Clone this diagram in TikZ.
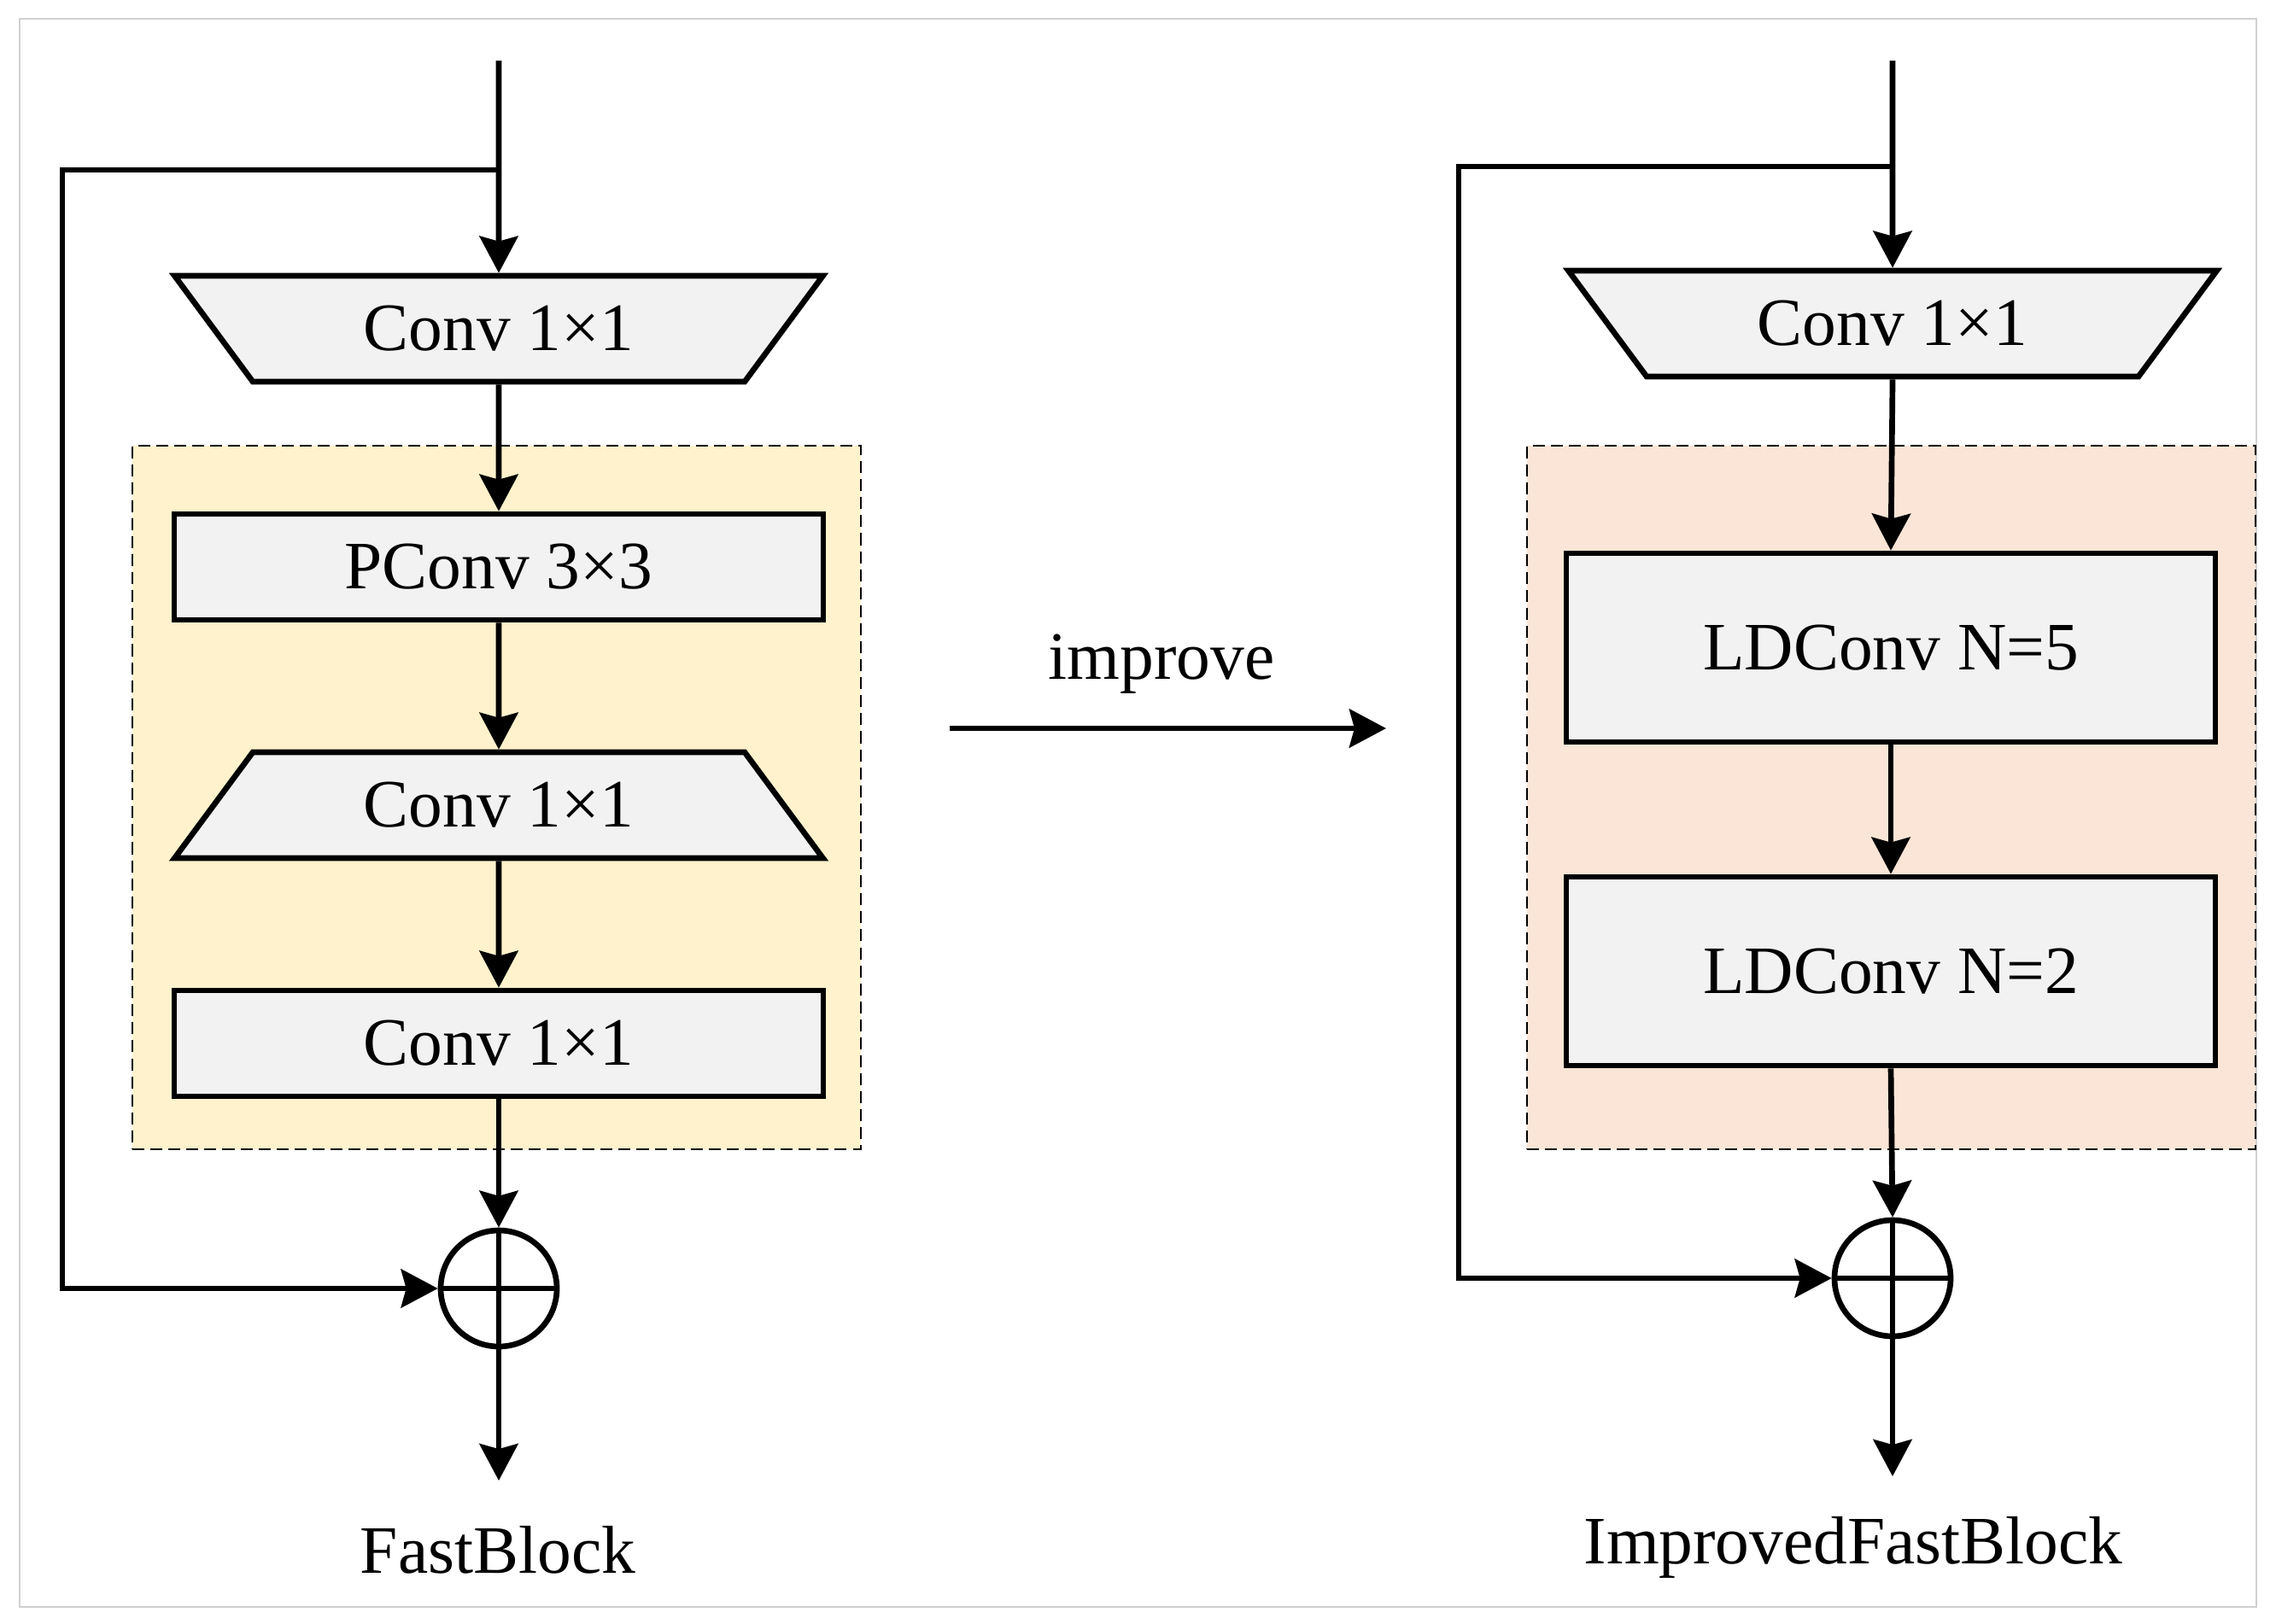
\documentclass[tikz,border=0pt]{standalone}
\usepackage{fontspec}
\setmainfont{Liberation Serif}
\usepackage{xcolor}
\usepackage{tikz}
\usetikzlibrary{shapes}
\usetikzlibrary{arrows.meta}
\usetikzlibrary{positioning}
\definecolor{boxgray}{RGB}{242,242,242}
\definecolor{lightyellow}{RGB}{255,242,204}
\definecolor{lightpeach}{RGB}{251,229,214}
\definecolor{framegray}{RGB}{208,208,208}

\begin{document}
\begin{tikzpicture}[
	font=\fontsize{22.6}{27}\selectfont,
	line width=1.9pt,
	arr/.style={-{Stealth[length=4.3mm,width=4.5mm,inset=0.6mm]}},
	plainbox/.style={rectangle,draw,fill=boxgray,minimum width=7.6cm,minimum height=1.24cm,inner sep=0pt},
	tallbox/.style={plainbox,minimum height=2.21cm},
	trapbox/.style={trapezium,trapezium angle=46.7,trapezium stretches=true,draw,fill=boxgray,minimum width=7.6cm,minimum height=1.24cm,inner sep=0pt},
	trapdown/.style={trapbox,shape border rotate=180},
	groupbox/.style={rectangle,draw,dash pattern=on 4pt off 2pt,line width=0.6pt,minimum width=8.53cm,minimum height=8.24cm,inner sep=0pt},
	addnode/.style={circle,draw,minimum size=1.36cm,inner sep=0pt}]
  \useasboundingbox (0,0) rectangle (26.65,-19.01);
  \draw[framegray,line width=0.6pt] (0.23,-0.22) rectangle (26.42,-18.82);

  % FastBlock
  \node[groupbox,fill=lightyellow] (grpl) at (5.815,-9.34) {};
  \coordinate (inl) at (5.84,-0.71);
  \coordinate (brl) at (5.84,-1.99);
  \coordinate (skipl) at (0.73,-1.99);
  \node[trapdown] (conva) at (5.84,-3.85) {Conv 1×1};
  \node[plainbox] (pconv) at (5.84,-6.64) {PConv 3×3};
  \node[trapbox] (convb) at (5.84,-9.43) {Conv 1×1};
  \node[plainbox] (convc) at (5.84,-12.22) {Conv 1×1};
  \node[addnode] (addl) at (5.84,-15.09) {};
  \coordinate (outl) at (5.84,-17.34);
  \node (namel) at (5.83,-18.15) {FastBlock};
  \draw[arr] (inl) -- (conva.north);
  \draw[arr] (brl) -- (skipl) |- (addl.west);
  \draw[arr] (conva.south) -- (pconv.north);
  \draw[arr] (pconv.south) -- (convb.north);
  \draw[arr] (convb.south) -- (convc.north);
  \draw[arr] (convc.south) -- (addl.north);
  \draw (addl.north) -- (addl.south);
  \draw (addl.west) -- (addl.east);
  \draw[arr] (addl.south) -- (outl);

  % improve
  \coordinate (impa) at (11.12,-8.53);
  \coordinate (impb) at (16.23,-8.53);
  \node (improve) at (13.60,-7.78) {improve};
  \draw[arr] (impa) -- (impb);

  % ImprovedFastBlock
  \node[groupbox,fill=lightpeach] (grpr) at (22.145,-9.34) {};
  \coordinate (inr) at (22.16,-0.71);
  \coordinate (brr) at (22.16,-1.95);
  \coordinate (skipr) at (17.08,-1.95);
  \node[trapdown] (convr) at (22.16,-3.79) {Conv 1×1};
  \node[tallbox] (ldfive) at (22.14,-7.585) {LDConv N=5};
  \node[tallbox] (ldtwo) at (22.14,-11.375) {LDConv N=2};
  \node[addnode] (addr) at (22.16,-14.97) {};
  \coordinate (outr) at (22.16,-17.29);
  \node (namer) at (21.70,-18.12) {ImprovedFastBlock};
  \draw[arr] (inr) -- (convr.north);
  \draw[arr] (brr) -- (skipr) |- (addr.west);
  \draw[arr] (convr.south) -- (ldfive.north);
  \draw[arr] (ldfive.south) -- (ldtwo.north);
  \draw[arr] (ldtwo.south) -- (addr.north);
  \draw (addr.north) -- (addr.south);
  \draw (addr.west) -- (addr.east);
  \draw[arr] (addr.south) -- (outr);
\end{tikzpicture}
\end{document}
